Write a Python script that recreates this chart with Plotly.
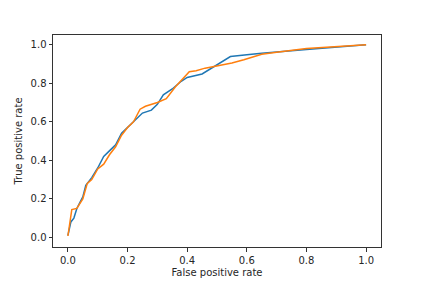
import plotly.graph_objects as go

fpr_a = [0.0, 0.01, 0.02, 0.03, 0.04, 0.05, 0.06, 0.08, 0.10, 0.12, 0.14, 0.16, 0.18, 0.20, 0.22, 0.25, 0.28, 0.30, 0.32, 0.35, 0.38, 0.40, 0.45, 0.50, 0.545, 0.60, 0.65, 0.80, 1.0]
tpr_a = [0.01, 0.08, 0.10, 0.15, 0.18, 0.21, 0.27, 0.31, 0.36, 0.42, 0.45, 0.48, 0.54, 0.57, 0.60, 0.645, 0.66, 0.69, 0.74, 0.77, 0.81, 0.83, 0.848, 0.895, 0.938, 0.947, 0.955, 0.975, 1.0]

fpr_b = [0.0, 0.013, 0.03, 0.05, 0.065, 0.08, 0.10, 0.12, 0.14, 0.16, 0.18, 0.20, 0.22, 0.242, 0.26, 0.30, 0.33, 0.36, 0.407, 0.43, 0.46, 0.50, 0.55, 0.59, 0.65, 0.70, 0.80, 1.0]
tpr_b = [0.007, 0.144, 0.15, 0.20, 0.28, 0.30, 0.355, 0.38, 0.43, 0.47, 0.53, 0.57, 0.60, 0.665, 0.68, 0.70, 0.72, 0.78, 0.859, 0.865, 0.878, 0.89, 0.905, 0.922, 0.95, 0.96, 0.98, 1.0]

fig = go.Figure()
fig.add_trace(go.Scatter(x=fpr_a, y=tpr_a, mode="lines", line=dict(color="#1f77b4", width=1.5)))
fig.add_trace(go.Scatter(x=fpr_b, y=tpr_b, mode="lines", line=dict(color="#ff7f0e", width=1.5)))

axis_common = dict(
    showgrid=False, zeroline=False, showline=True, mirror=True,
    linecolor="#333333", linewidth=1, ticks="outside", ticklen=3.5,
    tickwidth=0.8, tickcolor="#333333", automargin=False,
    tickfont=dict(family="DejaVu Sans", size=10, color="#262626"),
    title_font=dict(family="DejaVu Sans", size=10, color="#262626"),
)
fig.update_xaxes(range=[-0.05, 1.05], tickvals=[0, 0.2, 0.4, 0.6, 0.8, 1.0],
                 ticktext=["0.0", "0.2", "0.4", "0.6", "0.8", "1.0"],
                 title_text="False positive rate", title_standoff=4, **axis_common)
fig.update_yaxes(range=[-0.05, 1.05], tickvals=[0, 0.2, 0.4, 0.6, 0.8, 1.0],
                 ticktext=["0.0", "0.2", "0.4", "0.6", "0.8", "1.0"],
                 title_text="True positive rate", title_standoff=6, **axis_common)
fig.update_layout(
    width=423, height=282, showlegend=False,
    margin=dict(l=53, r=42, t=35, b=35, pad=0),
    plot_bgcolor="white", paper_bgcolor="white",
)
fig.write_html("out.html")
